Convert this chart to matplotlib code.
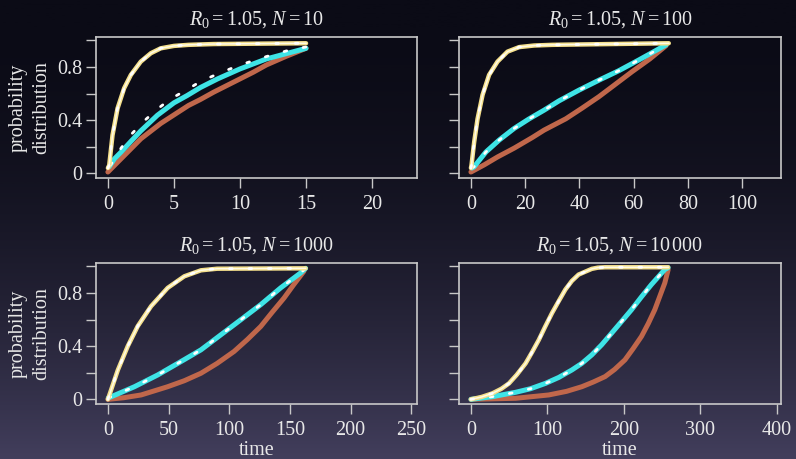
import numpy as np
import matplotlib
matplotlib.use("Agg")
import matplotlib.pyplot as plt
from matplotlib.colors import LinearSegmentedColormap

plt.rcParams['font.family'] = ['Liberation Serif', 'DejaVu Serif']
plt.rcParams['mathtext.fontset'] = 'custom'
plt.rcParams['mathtext.rm'] = 'Liberation Serif'
plt.rcParams['mathtext.it'] = 'Liberation Serif:italic'

# ---------------- data ----------------
titles = [r"$R_0=1.05,\,N=10$", r"$R_0=1.05,\,N=100$",
          r"$R_0=1.05,\,N=1000$", r"$R_0=1.05,\,N=10\,000$"]
xlims = [22.5, 110, 245, 390]
xticks = [[0, 5, 10, 15, 20], [0, 20, 40, 60, 80, 100],
          [0, 50, 100, 150, 200, 250], [0, 100, 200, 300, 400]]
yticks = [0, 0.2, 0.4, 0.6, 0.8, 1.0]
ytick_labels = ["0", "", "0.4", "", "0.8", ""]

# N = 10
t_yel_10 = [0, 0.1, 0.35, 0.73, 1.23, 1.74, 2.49, 3.25, 4.0, 5.0, 6.1, 8, 15]
y_yel_10 = [0.04, 0.06, 0.287, 0.488, 0.64, 0.74, 0.84, 0.903, 0.94, 0.958, 0.966, 0.972, 0.978]
t_cya_10 = [0.1, 0.5, 1, 1.74, 2.5, 3.75, 5, 6, 7, 8.3, 10, 12, 15]
y_cya_10 = [0.05, 0.11, 0.16, 0.24, 0.32, 0.437, 0.53, 0.585, 0.645, 0.71, 0.785, 0.86, 0.94]
t_dot_10 = [0.2, 1, 1.74, 2.7, 3.7, 4.75, 6, 7, 8.3, 10, 12, 13.5, 15]
y_dot_10 = [0.06, 0.19, 0.29, 0.39, 0.48, 0.56, 0.63, 0.69, 0.747, 0.815, 0.878, 0.92, 0.95]
t_bro_10 = [0, 1, 2.5, 4, 6.1, 7, 8, 9.5, 11, 12, 13.5, 15]
y_bro_10 = [0.01, 0.11, 0.26, 0.375, 0.51, 0.555, 0.61, 0.685, 0.76, 0.815, 0.88, 0.94]

# N = 100
t_yel_100 = [0, 0.2, 1.2, 2.45, 4.3, 6.7, 9.8, 13.5, 17.8, 23.3, 30, 73]
y_yel_100 = [0.04, 0.06, 0.236, 0.41, 0.59, 0.74, 0.84, 0.915, 0.949, 0.961, 0.966, 0.978]
t_cya_100 = [0.4, 1.2, 5.5, 10.4, 15.9, 21.5, 27, 32.5, 39.9, 47.2, 54.6, 62, 72]
y_cya_100 = [0.04, 0.05, 0.16, 0.25, 0.337, 0.41, 0.475, 0.545, 0.626, 0.70, 0.772, 0.853, 0.966]
t_bro_100 = [0, 5, 9.8, 16, 22.7, 27, 35, 41, 47.2, 53, 59.5, 66, 72]
y_bro_100 = [0.01, 0.065, 0.123, 0.19, 0.27, 0.325, 0.41, 0.49, 0.576, 0.665, 0.765, 0.86, 0.96]

# N = 1000
t_yel_1000 = [0, 8.2, 16.4, 24.6, 35.6, 49.3, 63, 76.7, 90, 163]
y_yel_1000 = [0, 0.22, 0.40, 0.55, 0.70, 0.838, 0.925, 0.97, 0.982, 0.985]
t_cya_1000 = [0.3, 21.9, 41, 60.2, 76.7, 93.1, 109.5, 126, 142.4, 158.8, 163]
y_cya_1000 = [0.01, 0.095, 0.183, 0.284, 0.372, 0.485, 0.598, 0.712, 0.838, 0.95, 0.985]
t_bro_1000 = [0, 13, 27.4, 49.3, 63, 76.7, 90, 104, 115, 126, 135, 145.2, 153, 161.6]
y_bro_1000 = [0, 0.012, 0.033, 0.095, 0.14, 0.196, 0.27, 0.36, 0.45, 0.548, 0.65, 0.762, 0.86, 0.963]

# N = 10000
t_yel_10000 = [0, 14, 28.1, 40, 49.8, 60, 71.5, 80, 88.8, 97, 106.1, 115, 123.5, 132, 140.8, 158.1, 166, 175.5, 258]
y_yel_10000 = [0, 0.018, 0.045, 0.08, 0.12, 0.185, 0.27, 0.355, 0.447, 0.545, 0.649, 0.74, 0.825, 0.89, 0.938, 0.981, 0.99, 0.993, 0.993]
t_cya_10000 = [0, 28.1, 58.5, 78, 97.5, 115, 132.1, 145, 158.1, 171, 184.1, 197, 210.1, 223, 236.1, 253.6, 258]
y_cya_10000 = [0, 0.02, 0.053, 0.08, 0.12, 0.165, 0.221, 0.27, 0.334, 0.41, 0.498, 0.585, 0.674, 0.77, 0.863, 0.976, 0.99]
t_bro_10000 = [0, 58.5, 101.8, 125, 145.1, 160, 175.5, 188, 201.5, 212, 223.1, 232, 240.5, 253.6, 258]
y_bro_10000 = [0, 0.008, 0.033, 0.06, 0.095, 0.13, 0.171, 0.225, 0.297, 0.38, 0.473, 0.57, 0.674, 0.875, 0.975]

panels = [
    (t_yel_10, y_yel_10, t_cya_10, y_cya_10, t_bro_10, y_bro_10, t_dot_10, y_dot_10),
    (t_yel_100, y_yel_100, t_cya_100, y_cya_100, t_bro_100, y_bro_100, t_cya_100, y_cya_100),
    (t_yel_1000, y_yel_1000, t_cya_1000, y_cya_1000, t_bro_1000, y_bro_1000, t_cya_1000, y_cya_1000),
    (t_yel_10000, y_yel_10000, t_cya_10000, y_cya_10000, t_bro_10000, y_bro_10000, t_cya_10000, y_cya_10000),
]

# ---------------- style ----------------
W, H = 796, 459
fig = plt.figure(figsize=(W / 100, H / 100), dpi=100)

# background gradient
bg = fig.add_axes([0, 0, 1, 1], zorder=-10)
grad = np.linspace(0, 1, 256) ** 2
cmap = LinearSegmentedColormap.from_list("bg", ["#0b0b16", "#423e5c"])
bg.imshow(grad[:, None], aspect='auto', cmap=cmap, extent=[0, 1, 0, 1], origin='upper')
bg.set_axis_off()

FG = "#e8e8e8"
SP = "#c8c8c8"
YEL = "#f5e08c"
CYA = "#3ee4e6"
BRO = "#c0674b"

# axes rectangles in pixels: left, top, right, bottom
rects = [(96, 37, 417, 178), (459, 37, 781, 178), (96, 263, 417, 404), (459, 263, 781, 404)]
FS = 14.5

for i, (r, p) in enumerate(zip(rects, panels)):
    l, t, rr, b = r
    ax = fig.add_axes([l / W, 1 - b / H, (rr - l) / W, (b - t) / H])
    ax.set_facecolor('none')
    ty, yy, tc, yc, tb, yb, td, yd = p
    ax.plot(tb, yb, color=BRO, lw=3.6, solid_capstyle='round', solid_joinstyle='round', zorder=3)
    ax.plot(tc, yc, color=CYA, lw=3.6, solid_capstyle='round', solid_joinstyle='round', zorder=4)
    ax.plot(td, yd, color='white', lw=2.0, ls=(0, (1, 6)), dash_capstyle='round', zorder=5)
    ax.plot(ty, yy, color=YEL, lw=3.2, solid_capstyle='round', solid_joinstyle='round', zorder=6)
    ax.plot(ty, yy, color='#fffbe6', lw=1.1, solid_joinstyle='round', zorder=7)
    ax.plot(ty, yy, color='white', lw=2.0, ls=(0, (1, 6)), dash_capstyle='round', zorder=8)

    xm = xlims[i]
    ax.set_xlim(-0.04 * xm, 1.04 * xm)
    ax.set_ylim(-0.035, 1.025)
    ax.set_xticks(xticks[i])
    ax.set_xticklabels([str(v) for v in xticks[i]])
    ax.set_yticks(yticks)
    if i % 2 == 0:
        ax.set_yticklabels(ytick_labels)
        ax.set_ylabel("probability\ndistribution", color=FG, fontsize=FS, labelpad=4, linespacing=1.3)
    else:
        ax.set_yticklabels([""] * len(yticks))
    if i >= 2:
        ax.set_xlabel("time", color=FG, fontsize=FS, labelpad=1)
    ax.tick_params(direction='out', length=7, width=1.0, color=SP, labelcolor=FG,
                   labelsize=FS, pad=3)
    ax.tick_params(axis='x', pad=5)
    for s in ax.spines.values():
        s.set_color(SP)
        s.set_linewidth(1.2)
    ax.set_title(titles[i], color=FG, fontsize=FS, pad=9)

fig.savefig("out.png", dpi=100, facecolor=fig.get_facecolor())
